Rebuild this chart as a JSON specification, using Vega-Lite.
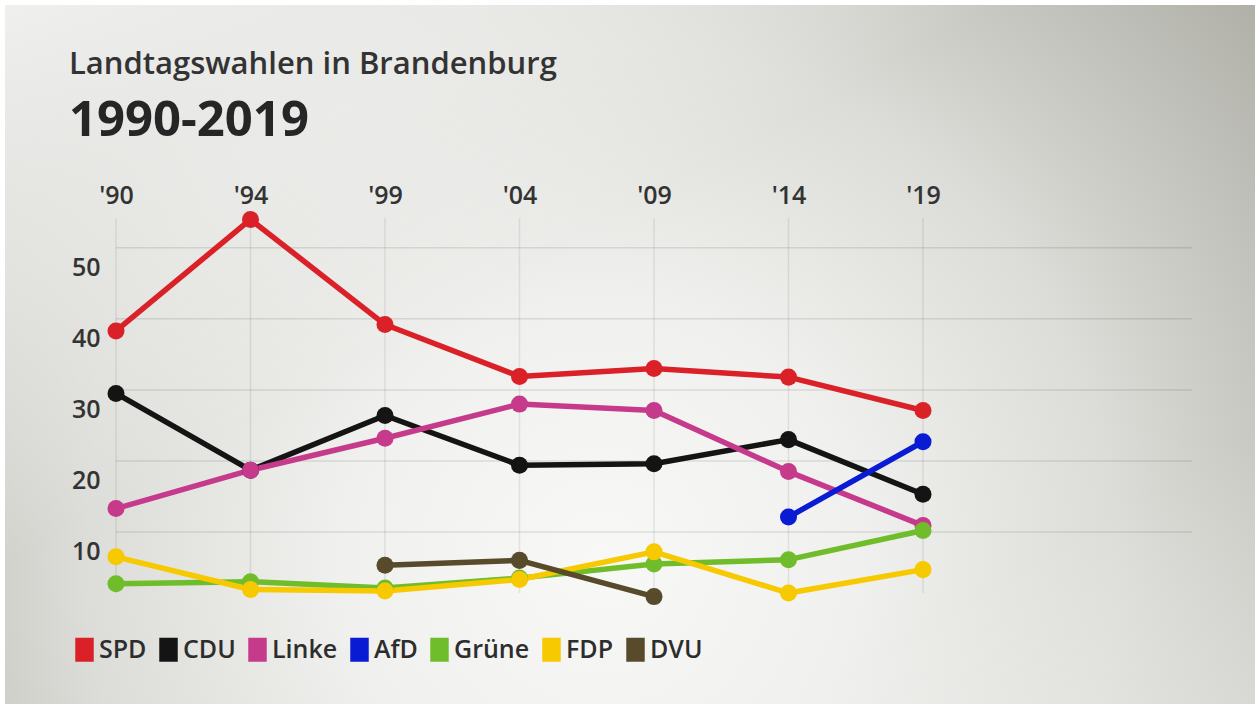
{
  "$schema": "https://vega.github.io/schema/vega-lite/v6.json",
  "width": 1260,
  "height": 709,
  "autosize": "none",
  "padding": 0,
  "background": "#ffffff",
  "view": {
    "fill": {
      "gradient": "radial",
      "x1": 0.476, "y1": 0.663, "r1": 0,
      "x2": 0.476, "y2": 0.663, "r2": 0.683,
      "stops": [
        {"offset": 0, "color": "#f8f8f6"},
        {"offset": 0.3, "color": "#f0f0ee"},
        {"offset": 0.6, "color": "#dcdcd8"},
        {"offset": 0.8, "color": "#c6c6c0"},
        {"offset": 1, "color": "#b0b0a9"}
      ]
    },
    "stroke": "#ffffff",
    "strokeWidth": 10
  },
  "title": {
    "text": "Landtagswahlen in Brandenburg",
    "subtitle": "1990-2019",
    "anchor": "start",
    "frame": "group",
    "font": "Open Sans",
    "fontSize": 31,
    "fontWeight": 600,
    "color": "#333333",
    "subtitleFont": "Open Sans",
    "subtitleFontSize": 49,
    "subtitleFontWeight": 700,
    "subtitleColor": "#262626",
    "subtitlePadding": 16,
    "offset": 0,
    "dx": 69,
    "dy": 147
  },
  "datasets": {
    "wahl": [
      {"partei": "CDU", "jahr": "'90", "wert": 29.5},
      {"partei": "CDU", "jahr": "'94", "wert": 18.7},
      {"partei": "CDU", "jahr": "'99", "wert": 26.4},
      {"partei": "CDU", "jahr": "'04", "wert": 19.4},
      {"partei": "CDU", "jahr": "'09", "wert": 19.6},
      {"partei": "CDU", "jahr": "'14", "wert": 23.0},
      {"partei": "CDU", "jahr": "'19", "wert": 15.3},
      {"partei": "Linke", "jahr": "'90", "wert": 13.3},
      {"partei": "Linke", "jahr": "'94", "wert": 18.7},
      {"partei": "Linke", "jahr": "'99", "wert": 23.2},
      {"partei": "Linke", "jahr": "'04", "wert": 28.0},
      {"partei": "Linke", "jahr": "'09", "wert": 27.1},
      {"partei": "Linke", "jahr": "'14", "wert": 18.5},
      {"partei": "Linke", "jahr": "'19", "wert": 10.9},
      {"partei": "AfD", "jahr": "'14", "wert": 12.1},
      {"partei": "AfD", "jahr": "'19", "wert": 22.7},
      {"partei": "Grüne", "jahr": "'90", "wert": 2.7},
      {"partei": "Grüne", "jahr": "'94", "wert": 3.0},
      {"partei": "Grüne", "jahr": "'99", "wert": 2.1},
      {"partei": "Grüne", "jahr": "'04", "wert": 3.5},
      {"partei": "Grüne", "jahr": "'09", "wert": 5.5},
      {"partei": "Grüne", "jahr": "'14", "wert": 6.1},
      {"partei": "Grüne", "jahr": "'19", "wert": 10.2},
      {"partei": "FDP", "jahr": "'90", "wert": 6.5},
      {"partei": "FDP", "jahr": "'94", "wert": 1.9},
      {"partei": "FDP", "jahr": "'99", "wert": 1.7},
      {"partei": "FDP", "jahr": "'04", "wert": 3.3},
      {"partei": "FDP", "jahr": "'09", "wert": 7.2},
      {"partei": "FDP", "jahr": "'14", "wert": 1.4},
      {"partei": "FDP", "jahr": "'19", "wert": 4.7},
      {"partei": "DVU", "jahr": "'99", "wert": 5.3},
      {"partei": "DVU", "jahr": "'04", "wert": 6.0},
      {"partei": "DVU", "jahr": "'09", "wert": 0.9},
      {"partei": "SPD", "jahr": "'90", "wert": 38.3},
      {"partei": "SPD", "jahr": "'94", "wert": 54.0},
      {"partei": "SPD", "jahr": "'99", "wert": 39.2},
      {"partei": "SPD", "jahr": "'04", "wert": 31.9},
      {"partei": "SPD", "jahr": "'09", "wert": 33.0},
      {"partei": "SPD", "jahr": "'14", "wert": 31.8},
      {"partei": "SPD", "jahr": "'19", "wert": 27.1}
    ],
    "jahre": [
      {"jahr": "'90"}, {"jahr": "'94"}, {"jahr": "'99"}, {"jahr": "'04"},
      {"jahr": "'09"}, {"jahr": "'14"}, {"jahr": "'19"}
    ],
    "raster": [
      {"v": 10}, {"v": 20}, {"v": 30}, {"v": 40}, {"v": 50}
    ]
  },
  "layer": [
    {
      "data": {"values": [{}]},
      "mark": {
        "type": "rect",
        "fill": {
          "gradient": "linear",
          "x1": 0, "y1": 0, "x2": 1, "y2": 1,
          "stops": [
            {"offset": 0, "color": "rgba(255,255,255,0.8)"},
            {"offset": 0.2, "color": "rgba(255,255,255,0.45)"},
            {"offset": 0.4, "color": "rgba(255,255,255,0)"},
            {"offset": 0.8, "color": "rgba(255,255,255,0)"},
            {"offset": 1, "color": "rgba(255,255,255,0.3)"}
          ]
        }
      },
      "encoding": {}
    },
    {
      "data": {"name": "jahre"},
      "mark": {"type": "rule", "color": "#000000", "opacity": 0.08, "strokeWidth": 1.5},
      "encoding": {
        "x": {"field": "jahr", "type": "nominal",
              "scale": {"type": "point", "padding": 0, "domain": ["'90", "'94", "'99", "'04", "'09", "'14", "'19", "e1", "e2"], "range": [116, 1192]},
              "axis": {
                "orient": "top", "offset": -208, "title": null, "domain": false, "ticks": false, "tickSize": 0,
                "grid": false, "labelPadding": 0, "labelAngle": 0, "zindex": 1,
                "values": ["'90", "'94", "'99", "'04", "'09", "'14", "'19"],
                "labelFont": "Open Sans", "labelFontSize": 25, "labelFontWeight": 600, "labelColor": "#333333"
              }},
        "y": {"datum": 1.4, "type": "quantitative",
              "scale": {"domain": [0, 54.2], "range": [603, 218], "nice": false, "zero": false},
              "axis": {
                "orient": "left", "offset": -100, "title": null, "domain": false, "ticks": false, "tickSize": 0,
                "grid": false, "labelPadding": 0, "labelOffset": 20, "zindex": 1,
                "values": [10, 20, 30, 40, 50],
                "labelFont": "Open Sans", "labelFontSize": 25, "labelFontWeight": 600, "labelColor": "#333333"
              }},
        "y2": {"datum": 54.2}
      }
    },
    {
      "data": {"name": "raster"},
      "mark": {"type": "rule", "color": "#000000", "opacity": 0.1, "strokeWidth": 1.5},
      "encoding": {
        "y": {"field": "v", "type": "quantitative"},
        "x": {"datum": "'90", "type": "nominal"},
        "x2": {"datum": "e2"}
      }
    },
    {
      "data": {"name": "wahl"},
      "mark": {"type": "line", "strokeWidth": 5.5, "strokeCap": "round", "strokeJoin": "round"},
      "encoding": {
        "x": {"field": "jahr", "type": "nominal"},
        "y": {"field": "wert", "type": "quantitative"},
        "color": {"field": "partei", "type": "nominal",
                  "scale": {"domain": ["SPD", "CDU", "Linke", "AfD", "Grüne", "FDP", "DVU"],
                            "range": ["#da2128", "#141414", "#c63a8c", "#0a1bd4", "#70bd2b", "#f7c900", "#574b2c"]},
                  "legend": {
                    "orient": "none", "legendX": 72, "legendY": 637, "direction": "horizontal",
                    "title": null, "padding": 0, "zindex": 1,
                    "symbolType": "M-0.77,-1L0.77,-1L0.77,1L-0.77,1Z", "symbolSize": 576,
                    "symbolStrokeWidth": 0, "symbolOpacity": 1,
                    "labelFont": "Open Sans", "labelFontSize": 25, "labelFontWeight": 600, "labelColor": "#2d2d2d",
                    "labelOffset": 2, "columnPadding": 9, "labelLimit": 200
                  }}
      }
    },
    {
      "data": {"name": "wahl"},
      "mark": {"type": "point", "filled": true, "opacity": 1, "size": 290},
      "encoding": {
        "x": {"field": "jahr", "type": "nominal"},
        "y": {"field": "wert", "type": "quantitative"},
        "color": {"field": "partei", "type": "nominal"}
      }
    }
  ]
}
